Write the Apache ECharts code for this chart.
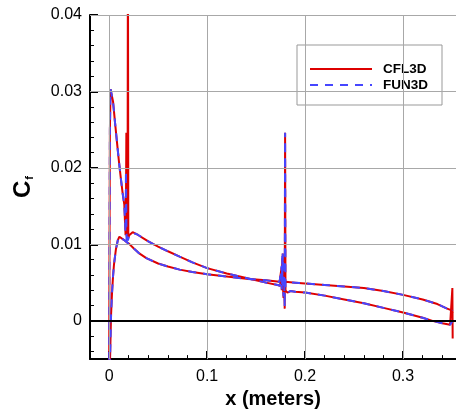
<!DOCTYPE html>
<html>
<head>
<meta charset="utf-8">
<script src="https://cdn.jsdelivr.net/npm/echarts@6/dist/echarts.min.js"></script>
<style>
html,body{margin:0;padding:0;background:#fff;}
#chart{width:456px;height:414px;}
</style>
</head>
<body>
<div id="chart"></div>
<script>
// ---- tick values ----
var xMajorTicks = [0, 0.1, 0.2, 0.3];
var xMinorTicks = [0.02, 0.04, 0.06, 0.08, 0.12, 0.14, 0.16, 0.18, 0.22, 0.24, 0.26, 0.28, 0.32, 0.34];
var yMajorTicks = [0, 0.01, 0.02, 0.03, 0.04];
var yMinorTicks = [-0.004, -0.002, 0.002, 0.004, 0.006, 0.008, 0.012, 0.014, 0.016, 0.018,
                   0.022, 0.024, 0.026, 0.028, 0.032, 0.034, 0.036, 0.038];

// ---- CFL3D, suction-side curve ----
var cflUpperX = [0.0, 0.0003, 0.0008, 0.0015, 0.0025, 0.004, 0.006, 0.008, 0.010, 0.012, 0.014, 0.0155,
  0.0162, 0.0168, 0.0172, 0.0176, 0.018, 0.0184, 0.0188, 0.0192, 0.0196, 0.0200, 0.0205, 0.022, 0.024,
  0.027, 0.03, 0.035, 0.04, 0.05, 0.06, 0.072, 0.085, 0.1, 0.12, 0.14, 0.16, 0.172, 0.1745,
  0.1755, 0.1762, 0.1768, 0.1774, 0.1780, 0.1786, 0.1792, 0.1796, 0.1800, 0.182, 0.185, 0.19, 0.2,
  0.22, 0.24, 0.26, 0.28, 0.30, 0.32, 0.33, 0.34, 0.348, 0.3500, 0.3503, 0.3506];
var cflUpperY = [-0.009, 0.005, 0.025, 0.0303, 0.0302, 0.0287, 0.0260, 0.0234, 0.0209, 0.0186, 0.0165, 0.0152,
  0.0130, 0.0112, 0.0150, 0.0246, 0.0110, 0.0120, 0.0106, 0.052, 0.0108, 0.0110, 0.0112, 0.0114, 0.0116,
  0.0114, 0.0112, 0.0108, 0.0104, 0.0097, 0.0091, 0.0084, 0.00765, 0.0069, 0.0062, 0.0056, 0.0050, 0.0047, 0.0046,
  0.0060, 0.0040, 0.0082, 0.0045, 0.0030, 0.0060, 0.0016, 0.0246, 0.0040, 0.0037, 0.0039, 0.0038, 0.0037,
  0.0033, 0.0028, 0.0023, 0.0017, 0.0011, 0.0004, 0.0000, -0.0003, -0.0005, -0.0004, 0.0043, -0.0023];

// ---- CFL3D, pressure-side curve ----
var cflLowerX = [0.0, 0.0008, 0.0015, 0.002, 0.003, 0.004, 0.005, 0.007, 0.009, 0.0105, 0.012, 0.015, 0.018,
  0.021, 0.025, 0.03, 0.038, 0.05, 0.06, 0.072, 0.085, 0.1, 0.12, 0.14, 0.16, 0.174, 0.1760, 0.1766, 0.1772,
  0.1778, 0.180, 0.19, 0.2, 0.22, 0.24, 0.26, 0.28, 0.30, 0.32, 0.335, 0.345, 0.349, 0.3505];
var cflLowerY = [-0.010, -0.006, -0.002, 0.0008, 0.0037, 0.0058, 0.0074, 0.0094, 0.0106, 0.0110, 0.0109, 0.0106, 0.0103,
  0.0100, 0.0095, 0.0089, 0.0082, 0.0075, 0.0071, 0.0067, 0.0064, 0.0061, 0.0058, 0.0055, 0.0053, 0.0051, 0.0070, 0.0048, 0.0088,
  0.0050, 0.0051, 0.0050, 0.0049, 0.0047, 0.0045, 0.0043, 0.0039, 0.0034, 0.0028, 0.0022, 0.0016, 0.0014, 0.0010];

// ---- FUN3D, suction-side curve ----
var funUpperX = [0.0, 0.0003, 0.0008, 0.0015, 0.0025, 0.004, 0.006, 0.008, 0.010, 0.012, 0.014, 0.0155,
  0.0162, 0.0168, 0.0172, 0.0178, 0.0185, 0.0192, 0.0200, 0.0205, 0.022, 0.024,
  0.027, 0.03, 0.035, 0.04, 0.05, 0.06, 0.072, 0.085, 0.1, 0.12, 0.14, 0.16, 0.172, 0.1745,
  0.1755, 0.1762, 0.1768, 0.1774, 0.1780, 0.1786, 0.1792, 0.1796, 0.1800, 0.182, 0.185, 0.19, 0.2,
  0.22, 0.24, 0.26, 0.28, 0.30, 0.32, 0.33, 0.34, 0.348, 0.3500];
var funUpperY = [-0.009, 0.005, 0.025, 0.0303, 0.0302, 0.0287, 0.0260, 0.0234, 0.0209, 0.0186, 0.0165, 0.0152,
  0.0132, 0.0115, 0.0196, 0.0104, 0.0112, 0.0105, 0.0110, 0.0112, 0.0114, 0.0116,
  0.0114, 0.0112, 0.0108, 0.0104, 0.0097, 0.0091, 0.0084, 0.00765, 0.0069, 0.0062, 0.0056, 0.0050, 0.0047, 0.0046,
  0.0062, 0.0041, 0.0085, 0.0045, 0.0032, 0.0058, 0.0018, 0.0246, 0.0040, 0.0037, 0.0039, 0.0038, 0.0037,
  0.0033, 0.0028, 0.0023, 0.0017, 0.0011, 0.0004, 0.0000, -0.0003, -0.0005, -0.0001];

// ---- FUN3D, pressure-side curve ----
var funLowerX = [0.0, 0.0008, 0.0015, 0.002, 0.003, 0.004, 0.005, 0.007, 0.009, 0.0105, 0.012, 0.015, 0.018,
  0.021, 0.025, 0.03, 0.038, 0.05, 0.06, 0.072, 0.085, 0.1, 0.12, 0.14, 0.16, 0.174, 0.1760, 0.1766, 0.1772,
  0.1778, 0.180, 0.19, 0.2, 0.22, 0.24, 0.26, 0.28, 0.30, 0.32, 0.335, 0.345, 0.349, 0.3505];
var funLowerY = [-0.010, -0.006, -0.002, 0.0008, 0.0037, 0.0058, 0.0074, 0.0094, 0.0106, 0.0110, 0.0109, 0.0106, 0.0103,
  0.0100, 0.0095, 0.0089, 0.0082, 0.0075, 0.0071, 0.0067, 0.0064, 0.0061, 0.0058, 0.0055, 0.0053, 0.0051, 0.0072, 0.0048, 0.0088,
  0.0050, 0.0051, 0.0050, 0.0049, 0.0047, 0.0045, 0.0043, 0.0039, 0.0034, 0.0028, 0.0022, 0.0016, 0.0012, 0.0014];

function pairs(xs, ys) {
  var out = [];
  for (var i = 0; i < xs.length; i++) out.push([xs[i], ys[i]]);
  return out;
}

var FONT = '"Liberation Sans", Arial, Helvetica, sans-serif';
var RED = '#dd0000';
var BLUE = '#4646ff';
var GRID = '#a8a8a8';

var gridLines = [];
xMajorTicks.forEach(function (v) { gridLines.push({ xAxis: v, lineStyle: { color: GRID, width: 1, type: 'solid' } }); });
yMajorTicks.forEach(function (v) {
  if (v === 0) gridLines.push({ yAxis: v, lineStyle: { color: '#000', width: 2, type: 'solid' } });
  else gridLines.push({ yAxis: v, lineStyle: { color: GRID, width: 1, type: 'solid' } });
});

var chart = echarts.init(document.getElementById('chart'), null, { renderer: 'canvas' });

function curve(name, data, color, dashed, z) {
  return {
    name: name,
    type: 'line',
    data: data,
    xAxisIndex: 0,
    yAxisIndex: 0,
    showSymbol: false,
    symbol: 'none',
    clip: true,
    z: z,
    animation: false,
    lineStyle: { color: color, width: 2, type: dashed ? [8, 7] : 'solid' },
    itemStyle: { color: color }
  };
}

var xBase = {
  type: 'value', min: -0.0195, max: 0.354, position: 'bottom'
};
var yBase = {
  type: 'value', min: -0.005, max: 0.04, position: 'left'
};

chart.setOption({
  animation: false,
  backgroundColor: '#fff',
  grid: { left: 90, right: 0, top: 15, bottom: 45, containLabel: false },
  legend: {
    data: ['CFL3D', 'FUN3D'],
    orient: 'vertical',
    left: 297, top: 45,
    padding: [17, 14, 13, 12],
    itemWidth: 62, itemHeight: 14, itemGap: 2,
    backgroundColor: '#fff',
    borderColor: '#999', borderWidth: 1, borderRadius: 0,
    itemStyle: { opacity: 0 },
    textStyle: { fontFamily: FONT, fontSize: 13.5, fontWeight: 'bold', color: '#000', padding: [0, 0, 0, 6] }
  },
  xAxis: [
    Object.assign({}, xBase, {
      axisLine: { show: true, onZero: false, lineStyle: { color: '#000', width: 2 } },
      axisTick: { show: true, inside: true, length: 8, customValues: xMajorTicks, lineStyle: { color: '#000', width: 2 } },
      axisLabel: { show: true, customValues: xMajorTicks, margin: 9, fontFamily: FONT, fontSize: 16, color: '#000' },
      splitLine: { show: false },
      name: 'x (meters)', nameLocation: 'middle', nameGap: 21,
      nameTextStyle: { fontFamily: FONT, fontSize: 20, fontWeight: 'bold', color: '#000' }
    }),
    Object.assign({}, xBase, {
      axisLine: { show: false, onZero: false },
      axisTick: { show: true, inside: true, length: 4, customValues: xMinorTicks, lineStyle: { color: '#000', width: 1 } },
      axisLabel: { show: false },
      splitLine: { show: false }
    })
  ],
  yAxis: [
    Object.assign({}, yBase, {
      axisLine: { show: true, onZero: false, lineStyle: { color: '#000', width: 2 } },
      axisTick: { show: true, inside: true, length: 8, customValues: yMajorTicks, lineStyle: { color: '#000', width: 2 } },
      axisLabel: { show: true, customValues: yMajorTicks, margin: 8, fontFamily: FONT, fontSize: 16, color: '#000' },
      splitLine: { show: false },
      name: '{c|C}{s|f}', nameLocation: 'middle', nameGap: 55, nameRotate: 90,
      nameTextStyle: {
        rich: {
          c: { fontFamily: FONT, fontSize: 24, fontWeight: 'bold', color: '#000' },
          s: { fontFamily: FONT, fontSize: 11, fontWeight: 'bold', color: '#000', verticalAlign: 'bottom', padding: [10, 0, 0, 1] }
        }
      }
    }),
    Object.assign({}, yBase, {
      axisLine: { show: false, onZero: false },
      axisTick: { show: true, inside: true, length: 4, customValues: yMinorTicks, lineStyle: { color: '#000', width: 1 } },
      axisLabel: { show: false },
      splitLine: { show: false }
    })
  ],
  series: [
    {
      name: 'grid', type: 'line', data: [], xAxisIndex: 0, yAxisIndex: 0, z: 1, animation: false,
      markLine: { silent: true, symbol: ['none', 'none'], label: { show: false }, animation: false, data: gridLines }
    },
    curve('CFL3D', pairs(cflUpperX, cflUpperY), RED, false, 2),
    curve('CFL3D', pairs(cflLowerX, cflLowerY), RED, false, 2),
    curve('FUN3D', pairs(funUpperX, funUpperY), BLUE, true, 3),
    curve('FUN3D', pairs(funLowerX, funLowerY), BLUE, true, 3)
  ]
});
</script>
</body>
</html>
